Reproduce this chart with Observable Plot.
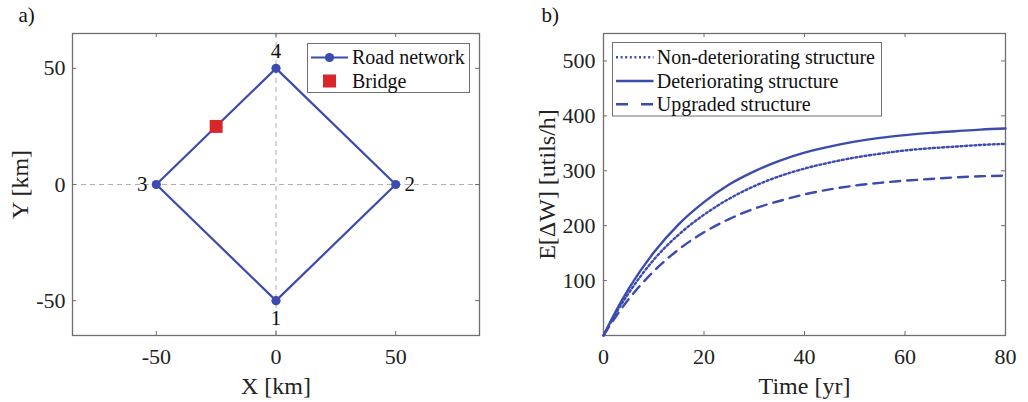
<!DOCTYPE html>
<html>
<head>
<meta charset="utf-8">
<script src="https://cdn.jsdelivr.net/npm/d3@7"></script>
<script src="https://cdn.jsdelivr.net/npm/@observablehq/plot@0.6"></script>
<style>
  html, body { margin: 0; padding: 0; background: #fff; }
  #wrap { position: relative; width: 1028px; height: 402px; overflow: hidden; font-family: "Liberation Serif", "Times New Roman", serif; }
  #pa { position: absolute; left: 0; top: 0; }
  #pb { position: absolute; left: 514px; top: 0; }
  #legend { position: absolute; left: 0; top: 0; pointer-events: none; }
</style>
</head>
<body>
<div id="wrap">
  <div id="pa"></div>
  <div id="pb"></div>
  <svg id="legend" width="1028" height="402"></svg>
</div>
<script>
// ---------- Data: panel a (road network) ----------
const nodeIds = [1, 2, 3, 4];
const nodeX = [0, 50, -50, 0];
const nodeY = [-50, 0, 0, 50];
const roadOrder = [1, 2, 4, 3, 1];
const bridgeX = [-25];
const bridgeY = [25];
const xTicksA = [-50, 0, 50];
const yTicksA = [-50, 0, 50];
const roadLegend = ["Road network", "Bridge"];

// ---------- Data: panel b (expected welfare change) ----------
const years = [0, 2.5, 5, 10, 15, 20, 25, 30, 35, 40, 45, 50, 55, 60, 65, 70, 75, 80];
const nonDeteriorating = [0, 41, 77, 138, 184, 220, 249, 272, 290, 304, 315, 324, 331, 337, 341, 344, 347, 349];
const deteriorating   = [0, 45, 85, 151, 203, 243, 275, 299, 318, 333, 344, 353, 360, 365, 369, 372, 375, 377];
const upgraded        = [0, 35, 66, 117, 157, 188, 212, 231, 245, 257, 266, 273, 278, 282, 285, 288, 290, 291];
const seriesNames = ["Non-deteriorating structure", "Deteriorating structure", "Upgraded structure"];
const xTicksB = [0, 20, 40, 60, 80];
const yTicksB = [100, 200, 300, 400, 500];

// ---------- Styles ----------
const BLUE = "#3b4bae";
const RED = "#d8262a";
const FRAME = "#6f6f6f";
const FONT = "Liberation Serif, Times New Roman, serif";
const dashFor = {
  "Non-deteriorating structure": "2,2.6",
  "Deteriorating structure": null,
  "Upgraded structure": "10,7"
};

const nodes = nodeIds.map((id, i) => ({id, x: nodeX[i], y: nodeY[i]}));
const road = roadOrder.map(id => nodes.find(n => n.id === id));
const bridge = bridgeX.map((x, i) => ({x, y: bridgeY[i]}));
const labelOffset = {1: [0, 18], 2: [14, 0], 3: [-14, 0], 4: [0, -17]};

function innerTicks(xt, yt, innerW, innerH, len) {
  return [
    Plot.tickX(xt, {x: d => d, stroke: FRAME, insetTop: innerH - len}),
    Plot.tickX(xt, {x: d => d, stroke: FRAME, insetBottom: innerH - len}),
    Plot.tickY(yt, {y: d => d, stroke: FRAME, insetRight: innerW - len}),
    Plot.tickY(yt, {y: d => d, stroke: FRAME, insetLeft: innerW - len})
  ];
}

function labels(xLabel, yLabel, panel, yDx, pDx) {
  return [
    Plot.text([xLabel], {text: d => d, frameAnchor: "bottom", textAnchor: "middle", lineAnchor: "middle", dy: 51, fontSize: 24, fill: "#222"}),
    Plot.text([yLabel], {text: d => d, frameAnchor: "left", textAnchor: "middle", lineAnchor: "middle", rotate: -90, dx: yDx, fontSize: 24, fill: "#222"}),
    Plot.text([panel], {text: d => d, frameAnchor: "top-left", textAnchor: "start", lineAnchor: "middle", dx: pDx, dy: -18, fontSize: 21, fill: "#111"})
  ];
}

// ---------- Panel a ----------
{
  const W = 500, H = 402, mt = 33, mb = 67, ml = 72, mr = 21;
  const iw = W - ml - mr, ih = H - mt - mb;
  const chart = Plot.plot({
    width: W, height: H,
    marginTop: mt, marginBottom: mb, marginLeft: ml, marginRight: mr,
    style: {fontFamily: FONT, fontSize: "22px", color: "#222", background: "#fff"},
    x: {domain: [-85, 85], ticks: xTicksA, tickSize: 0, tickPadding: 13, tickFormat: d => String(d), label: null},
    y: {domain: [-65, 65], ticks: yTicksA, tickSize: 0, tickPadding: 7, tickFormat: d => String(d), label: null},
    marks: [
      Plot.ruleX([0], {stroke: "#b0b0b0", strokeDasharray: "5,4", strokeWidth: 1}),
      Plot.ruleY([0], {stroke: "#b0b0b0", strokeDasharray: "5,4", strokeWidth: 1}),
      Plot.frame({stroke: FRAME, strokeWidth: 1.3}),
      ...innerTicks(xTicksA, yTicksA, iw, ih, 4),
      Plot.line(road, {x: "x", y: "y", stroke: BLUE, strokeWidth: 2.2}),
      Plot.dot(nodes, {x: "x", y: "y", r: 4.6, fill: BLUE}),
      Plot.dot(bridge, {x: "x", y: "y", symbol: "square", r: 7.3, fill: RED}),
      ...nodeIds.map(id => Plot.text(nodes.filter(n => n.id === id), {
        x: "x", y: "y", text: d => String(d.id), fontSize: 21, fill: "#111",
        dx: labelOffset[id][0], dy: labelOffset[id][1]
      })),
      ...labels("X [km]", "Y [km]", "a)", -52, -54)
    ]
  });
  document.getElementById("pa").appendChild(chart);
}

// ---------- Panel b ----------
{
  const W = 514, H = 402, mt = 33, mb = 67, ml = 89, mr = 23;
  const iw = W - ml - mr, ih = H - mt - mb;
  const rows = [];
  const series = [nonDeteriorating, deteriorating, upgraded];
  series.forEach((vals, s) => years.forEach((t, i) => rows.push({t, v: vals[i], s: seriesNames[s]})));
  const chart = Plot.plot({
    width: W, height: H,
    marginTop: mt, marginBottom: mb, marginLeft: ml, marginRight: mr,
    style: {fontFamily: FONT, fontSize: "22px", color: "#222", background: "#fff"},
    x: {domain: [0, 80], ticks: xTicksB, tickSize: 0, tickPadding: 13, label: null},
    y: {domain: [0, 550], ticks: yTicksB, tickSize: 0, tickPadding: 8, label: null},
    marks: [
      Plot.frame({stroke: FRAME, strokeWidth: 1.3}),
      ...innerTicks(xTicksB, yTicksB, iw, ih, 4),
      ...seriesNames.map(name => Plot.line(rows.filter(r => r.s === name), {
        x: "t", y: "v", stroke: BLUE, strokeWidth: 2.4, curve: "monotone-x",
        strokeDasharray: dashFor[name]
      })),
      ...labels("Time [yr]", "E[\u0394W] [utils/h]", "b)", -56, -62)
    ]
  });
  document.getElementById("pb").appendChild(chart);
}

// ---------- Legends (overlay) ----------
{
  const svg = d3.select("#legend");
  svg.style("font-family", FONT);
  // panel a legend
  const ga = svg.append("g");
  ga.append("rect").attr("x", 307.5).attr("y", 43.5).attr("width", 162).attr("height", 49)
    .attr("fill", "#fff").attr("stroke", FRAME).attr("stroke-width", 1);
  ga.append("line").attr("x1", 311).attr("x2", 348).attr("y1", 57.5).attr("y2", 57.5)
    .attr("stroke", BLUE).attr("stroke-width", 2.2);
  ga.append("circle").attr("cx", 329.5).attr("cy", 57.5).attr("r", 4.6).attr("fill", BLUE);
  ga.append("rect").attr("x", 323).attr("y", 74.5).attr("width", 13).attr("height", 13).attr("fill", RED);
  roadLegend.forEach((t, i) => {
    ga.append("text").attr("x", 352).attr("y", i === 0 ? 57.5 : 81).attr("dy", "0.33em")
      .attr("font-size", 20).attr("fill", "#111").text(t);
  });
  // panel b legend
  const gb = svg.append("g");
  gb.append("rect").attr("x", 612.5).attr("y", 42.5).attr("width", 269).attr("height", 73.5)
    .attr("fill", "#fff").attr("stroke", FRAME).attr("stroke-width", 1);
  const ys = [57.3, 81, 104.3];
  seriesNames.forEach((name, i) => {
    const ln = gb.append("line").attr("x1", 616).attr("x2", 653.5).attr("y1", ys[i]).attr("y2", ys[i])
      .attr("stroke", BLUE).attr("stroke-width", 2.4);
    if (dashFor[name]) ln.attr("stroke-dasharray", name === "Upgraded structure" ? "12,13" : dashFor[name]);
    gb.append("text").attr("x", 656.7).attr("y", ys[i]).attr("dy", "0.33em")
      .attr("font-size", 20).attr("fill", "#111").text(name);
  });
}
</script>
</body>
</html>
